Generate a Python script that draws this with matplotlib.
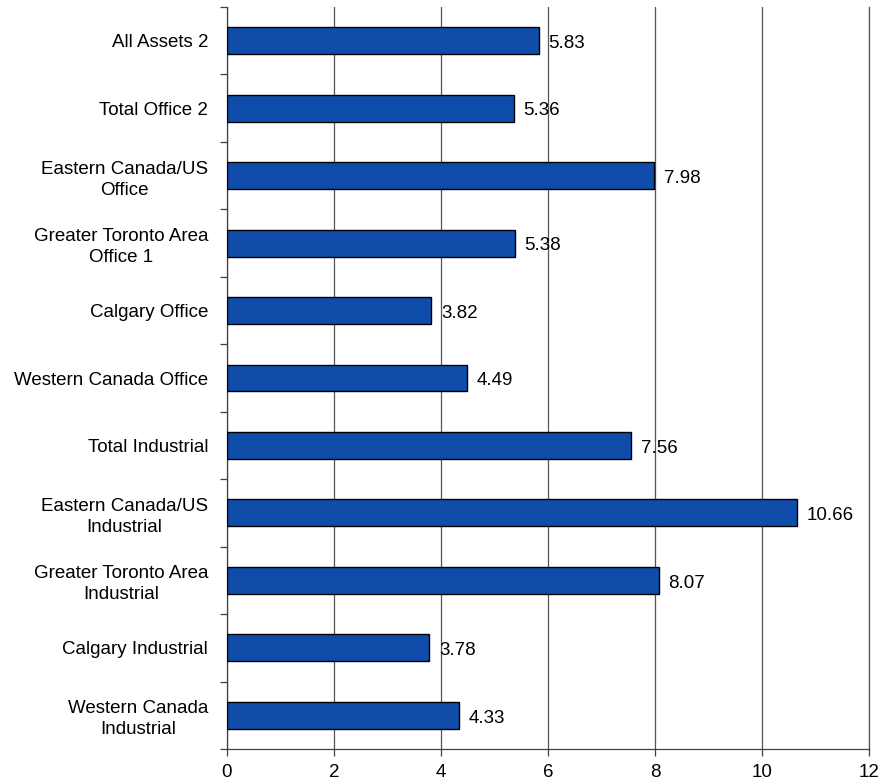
import matplotlib
matplotlib.use("Agg")
import matplotlib.pyplot as plt
import numpy as np

plt.rcParams['font.family'] = ['Liberation Sans', 'DejaVu Sans']

categories = [
    "All Assets 2",
    "Total Office 2",
    "Eastern Canada/US\nOffice",
    "Greater Toronto Area\nOffice 1",
    "Calgary Office",
    "Western Canada Office",
    "Total Industrial",
    "Eastern Canada/US\nIndustrial",
    "Greater Toronto Area\nIndustrial",
    "Calgary Industrial",
    "Western Canada\nIndustrial",
]
values = [5.83, 5.36, 7.98, 5.38, 3.82, 4.49, 7.56, 10.66, 8.07, 3.78, 4.33]
x_ticks = [0, 2, 4, 6, 8, 10, 12]

fig = plt.figure(figsize=(8.79, 7.83), dpi=100)
ax = fig.add_axes([227/879, 1 - 749/783, (869 - 227)/879, (749 - 7)/783])

n = len(categories)
ypos = np.arange(n)[::-1]  # top category at top
ax.barh(ypos, values, height=0.4, color='#104DAA', edgecolor='black', linewidth=1.0, zorder=3)

for y, v in zip(ypos, values):
    ax.annotate(f"{v:.2f}", xy=(v, y), xytext=(7, -2), textcoords='offset points',
                va='center', ha='left', fontsize=13.5, color='black', zorder=4)

ax.set_xlim(0, 12)
ax.set_ylim(-0.5, n - 0.5)
ax.set_xticks(x_ticks)
ax.set_xticklabels([str(t) for t in x_ticks], fontsize=13.5)
ax.xaxis.grid(True, color='#555555', linewidth=0.9, zorder=0)
ax.tick_params(axis='x', direction='out', length=5, width=0.9, color='#404040', pad=6)

# category boundaries as major ticks, labels on minor ticks
ax.set_yticks(np.arange(-0.5, n, 1.0))
ax.set_yticklabels([])
ax.set_yticks(ypos, minor=True)
ax.set_yticklabels(categories, minor=True, fontsize=13.5, multialignment='center', linespacing=1.3)
ax.tick_params(axis='y', which='major', direction='out', length=5, width=0.9, color='#404040')
ax.tick_params(axis='y', which='minor', length=0, pad=13.5)

ax.spines['top'].set_visible(False)
ax.spines['right'].set_color('#555555')
ax.spines['right'].set_linewidth(0.9)
ax.spines['left'].set_color('#404040')
ax.spines['bottom'].set_color('#404040')
ax.spines['left'].set_linewidth(0.9)
ax.spines['bottom'].set_linewidth(0.9)

fig.savefig("out.png", dpi=100)
